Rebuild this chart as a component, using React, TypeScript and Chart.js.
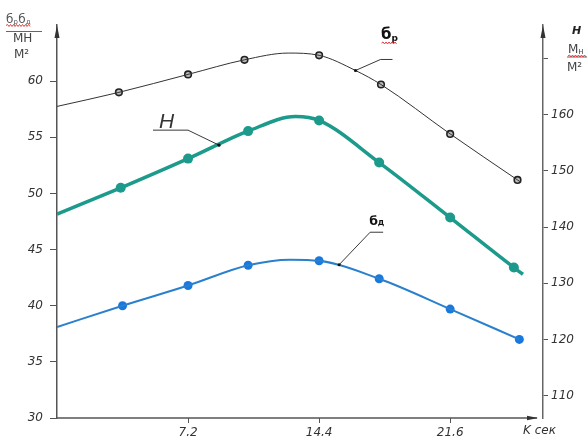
import React, { useEffect, useRef } from "react";
import { Chart, registerables } from "chart.js";

Chart.register(...registerables);

// ---- axis ticks ----
const xTickValues = [7.2, 14.4, 21.6];
const xTickLabels = ["7,2", "14,4", "21,6"];
const leftTickValues = [30, 35, 40, 45, 50, 55, 60];
const rightTickValues = [110, 120, 130, 140, 150, 160, 170];
const rightTickLabels = ["110", "120", "130", "140", "150", "160", ""];

// ---- б_р (left axis) ----
const sigmaPCurveX = [0, 3.4, 7.2, 10.3, 12.7, 14.4, 16.4, 17.8, 21.6, 25.3, 25.5];
const sigmaPCurveY = [57.75, 59.0, 60.6, 61.9, 62.5, 62.3, 60.95, 59.7, 55.3, 51.2, 50.98];
const sigmaPMarkX = [3.4, 7.2, 10.3, 14.4, 17.8, 21.6, 25.3];
const sigmaPMarkY = [59.0, 60.6, 61.9, 62.3, 59.7, 55.3, 51.2];
const sigmaPLeader = [16.4, 60.95];

// ---- H (right axis) ----
const hCurveX = [0, 3.5, 7.2, 10.5, 13.1, 14.4, 17.7, 21.6, 25.1, 25.6];
const hCurveY = [142.3, 147.0, 152.2, 157.1, 159.7, 159.0, 151.5, 141.7, 132.8, 131.6];
const hMarkX = [3.5, 7.2, 10.5, 14.4, 17.7, 21.6, 25.1];
const hMarkY = [147.0, 152.2, 157.1, 159.0, 151.5, 141.7, 132.8];
const hLeader = [8.9, 154.6];

// ---- б_д (left axis) ----
const sigmaDCurveX = [0, 3.6, 7.2, 10.5, 12.8, 14.4, 17.7, 21.6, 25.4];
const sigmaDCurveY = [38.1, 40.0, 41.8, 43.6, 44.1, 44.0, 42.4, 39.7, 37.0];
const sigmaDMarkX = [3.6, 7.2, 10.5, 14.4, 17.7, 21.6, 25.4];
const sigmaDMarkY = [40.0, 41.8, 43.6, 44.0, 42.4, 39.7, 37.0];
const sigmaDLeader = [15.5, 43.65];

const zip = (xs: number[], ys: number[]) => xs.map((x, i) => ({ x, y: ys[i] }));

const TEAL = "#1c9a8b";
const BLUE_LINE = "#2a80cc";
const BLUE_MARK = "#1878e0";
const DARK = "#333";

function squiggle(ctx: CanvasRenderingContext2D, x0: number, x1: number, y: number) {
  ctx.save();
  ctx.strokeStyle = "#e23b3b";
  ctx.lineWidth = 1;
  ctx.beginPath();
  let up = true;
  ctx.moveTo(x0, y);
  for (let x = x0 + 1.5; x <= x1; x += 1.5) {
    ctx.lineTo(x, y + (up ? -1 : 1));
    up = !up;
  }
  ctx.stroke();
  ctx.restore();
}

function subText(
  ctx: CanvasRenderingContext2D,
  x: number,
  y: number,
  main: string,
  sub: string,
  mainFont: string,
  subFont: string,
  subDy: number
) {
  ctx.font = mainFont;
  ctx.fillText(main, x, y);
  const w = ctx.measureText(main).width;
  ctx.font = subFont;
  ctx.fillText(sub, x + w, y + subDy);
  return x + w + ctx.measureText(sub).width;
}

const overlay = {
  id: "overlay",
  afterDatasetsDraw(chart: any) {
    const { ctx, chartArea: a, scales } = chart;
    const xs = scales.x;
    const yl = scales.yL;
    const yr = scales.yR;
    ctx.save();
    // x axis with arrow
    ctx.strokeStyle = "#555";
    ctx.lineWidth = 1.5;
    ctx.beginPath();
    ctx.moveTo(a.left, a.bottom);
    ctx.lineTo(a.right - 6, a.bottom);
    ctx.stroke();
    ctx.fillStyle = "#333";
    ctx.beginPath();
    ctx.moveTo(a.right - 5, a.bottom);
    ctx.lineTo(a.right - 16, a.bottom - 2.2);
    ctx.lineTo(a.right - 16, a.bottom + 2.2);
    ctx.closePath();
    ctx.fill();
    // y arrows
    for (const X of [a.left, a.right]) {
      ctx.beginPath();
      ctx.moveTo(X, a.top);
      ctx.lineTo(X - 2.5, a.top + 13);
      ctx.lineTo(X + 2.5, a.top + 13);
      ctx.closePath();
      ctx.fill();
    }

    ctx.textBaseline = "alphabetic";
    ctx.textAlign = "left";

    // leaders
    ctx.strokeStyle = "#222";
    ctx.lineWidth = 0.9;
    const dot = (px: number, py: number) => {
      ctx.beginPath();
      ctx.arc(px, py, 1.6, 0, Math.PI * 2);
      ctx.fillStyle = "#111";
      ctx.fill();
    };

    // б_р
    {
      const px = xs.getPixelForValue(sigmaPLeader[0]);
      const py = yl.getPixelForValue(sigmaPLeader[1]);
      ctx.beginPath();
      ctx.moveTo(px, py);
      ctx.lineTo(px + 25, py - 11);
      ctx.lineTo(px + 37, py - 11);
      ctx.stroke();
      dot(px, py);
      ctx.fillStyle = "#111";
      const end = subText(ctx, px + 25.5, py - 31, "б", "р", 'bold 15px "DejaVu Sans"', 'bold 9px "DejaVu Sans"', 2);
      squiggle(ctx, px + 26, end, py - 27.5);
    }
    // H
    {
      const px = xs.getPixelForValue(hLeader[0]);
      const py = yr.getPixelForValue(hLeader[1]);
      ctx.beginPath();
      ctx.moveTo(px, py);
      ctx.lineTo(px - 31, py - 15);
      ctx.lineTo(px - 66, py - 15);
      ctx.stroke();
      dot(px, py);
      ctx.fillStyle = "#333";
      ctx.font = 'italic 21px "Liberation Sans"';
      ctx.fillText("H", px - 60, py - 17.5);
    }
    // б_д
    {
      const px = xs.getPixelForValue(sigmaDLeader[0]);
      const py = yl.getPixelForValue(sigmaDLeader[1]);
      ctx.beginPath();
      ctx.moveTo(px, py);
      ctx.lineTo(px + 31, py - 32.5);
      ctx.lineTo(px + 44, py - 32.5);
      ctx.stroke();
      dot(px, py);
      ctx.fillStyle = "#111";
      subText(ctx, px + 30, py - 40, "б", "д", 'bold 12.5px "DejaVu Sans"', 'bold 8px "DejaVu Sans"', 0);
    }

    // top-left unit label
    ctx.fillStyle = "#555";
    let e = subText(ctx, 6, 23, "б", "р", '12px "DejaVu Sans"', '7px "DejaVu Sans"', 1);
    e = subText(ctx, e + 0.5, 23, "б", "д", '12px "DejaVu Sans"', '7px "DejaVu Sans"', 1);
    squiggle(ctx, 6, e, 25.5);
    ctx.strokeStyle = "#666";
    ctx.lineWidth = 1;
    ctx.beginPath();
    ctx.moveTo(6, 31.5);
    ctx.lineTo(42, 31.5);
    ctx.stroke();
    ctx.fillStyle = "#444";
    ctx.font = '12px "DejaVu Sans"';
    ctx.fillText("МН", 13, 42);
    ctx.fillText("М²", 14, 58);

    // top-right unit label
    ctx.fillStyle = "#222";
    ctx.font = 'bold italic 11px "DejaVu Sans"';
    ctx.fillText("H", 572, 34);
    ctx.fillStyle = "#444";
    subText(ctx, 568, 53, "М", "н", '12px "DejaVu Sans"', '8px "DejaVu Sans"', 1);
    ctx.strokeStyle = "#666";
    ctx.beginPath();
    ctx.moveTo(567, 57);
    ctx.lineTo(587, 57);
    ctx.stroke();
    squiggle(ctx, 568, 587, 56);
    ctx.fillStyle = "#444";
    ctx.font = '12px "DejaVu Sans"';
    ctx.fillText("М²", 567, 71);

    // x axis unit
    ctx.fillStyle = "#333";
    ctx.font = 'italic 12px "DejaVu Sans"';
    ctx.fillText("K сек", 523, 434);
    ctx.restore();
  },
};

export default function App() {
  const ref = useRef<HTMLCanvasElement | null>(null);
  useEffect(() => {
    if (!ref.current) return;
    const tickFont = { family: "DejaVu Sans", size: 12, style: "italic" as const };
    const chart = new Chart(ref.current, {
      type: "line",
      data: {
        datasets: [
          {
            data: zip(sigmaDCurveX, sigmaDCurveY),
            yAxisID: "yL",
            borderColor: BLUE_LINE,
            borderWidth: 2,
            pointRadius: 0,
            cubicInterpolationMode: "monotone",
          },
          {
            data: zip(sigmaDMarkX, sigmaDMarkY),
            yAxisID: "yL",
            showLine: false,
            pointRadius: 4.5,
            pointBackgroundColor: BLUE_MARK,
            pointBorderColor: BLUE_MARK,
            pointBorderWidth: 0,
          },
          {
            data: zip(hCurveX, hCurveY),
            yAxisID: "yR",
            borderColor: TEAL,
            borderWidth: 3.5,
            pointRadius: 0,
            cubicInterpolationMode: "monotone",
          },
          {
            data: zip(hMarkX, hMarkY),
            yAxisID: "yR",
            showLine: false,
            pointRadius: 5,
            pointBackgroundColor: TEAL,
            pointBorderColor: TEAL,
            pointBorderWidth: 0,
          },
          {
            data: zip(sigmaPCurveX, sigmaPCurveY),
            yAxisID: "yL",
            borderColor: DARK,
            borderWidth: 1,
            pointRadius: 0,
            cubicInterpolationMode: "monotone",
          },
          {
            data: zip(sigmaPMarkX, sigmaPMarkY),
            yAxisID: "yL",
            showLine: false,
            pointRadius: 3.3,
            pointBackgroundColor: "#bbb",
            pointBorderColor: "#222",
            pointBorderWidth: 1.6,
          },
        ],
      },
      options: {
        animation: false,
        responsive: false,
        devicePixelRatio: 1,
        layout: { padding: { top: 25, left: 0, right: 0, bottom: 0 } },
        plugins: { legend: { display: false }, tooltip: { enabled: false }, title: { display: false } },
        scales: {
          x: {
            type: "linear",
            min: 0,
            max: 26.7,
            afterBuildTicks: (s: any) => {
              s.ticks = xTickValues.map((v) => ({ value: v }));
            },
            afterFit: (s: any) => {
              s.height = 18;
            },
            ticks: {
              autoSkip: false,
              maxRotation: 0,
              padding: 3,
              color: "#333",
              font: tickFont,
              callback: (_v: any, i: number) => xTickLabels[i],
            },
            grid: { drawOnChartArea: false, drawTicks: true, tickLength: 5, color: "#555", lineWidth: 1 },
            border: { display: false },
          },
          yL: {
            type: "linear",
            position: "left",
            min: 30,
            max: 65,
            afterBuildTicks: (s: any) => {
              s.ticks = leftTickValues.map((v) => ({ value: v }));
            },
            afterFit: (s: any) => {
              s.width = 57;
            },
            ticks: {
              autoSkip: false,
              padding: 7,
              color: "#333",
              font: tickFont,
              callback: (v: any) => String(v),
            },
            grid: { drawOnChartArea: false, drawTicks: true, tickLength: 7, color: "#555", lineWidth: 1 },
            border: { display: true, color: "#555", width: 1.5 },
          },
          yR: {
            type: "linear",
            position: "right",
            min: 106,
            max: 176,
            afterBuildTicks: (s: any) => {
              s.ticks = rightTickValues.map((v) => ({ value: v }));
            },
            afterFit: (s: any) => {
              s.width = 44;
            },
            ticks: {
              autoSkip: false,
              padding: 3,
              color: "#333",
              font: tickFont,
              callback: (_v: any, i: number) => rightTickLabels[i],
            },
            grid: { drawOnChartArea: false, drawTicks: true, tickLength: 5, color: "#555", lineWidth: 1 },
            border: { display: true, color: "#666", width: 1.5 },
          },
        },
      },
      plugins: [overlay],
    });
    return () => chart.destroy();
  }, []);
  return (
    <div style={{ position: "absolute", left: 0, top: 0, width: 587, height: 436, background: "#fff" }}>
      <canvas ref={ref} width={587} height={436} style={{ display: "block" }} />
    </div>
  );
}
